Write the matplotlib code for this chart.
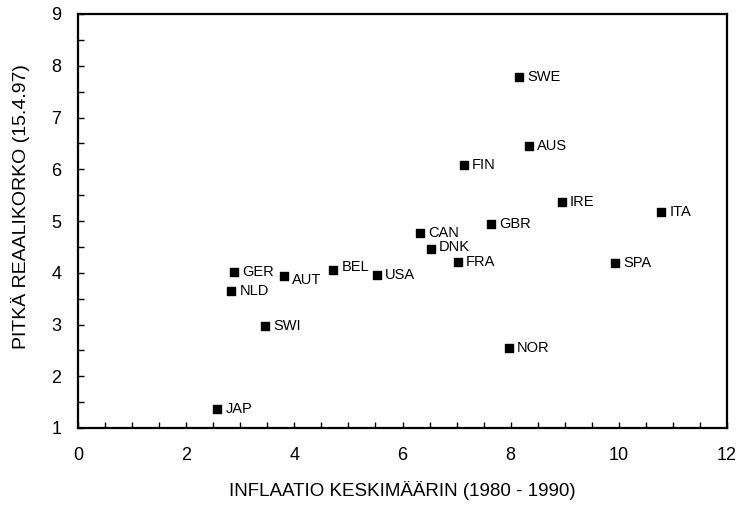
import matplotlib

matplotlib.use("Agg")
import matplotlib.pyplot as plt  # noqa: E402
from matplotlib.ticker import MultipleLocator  # noqa: E402

plt.rcParams["font.family"] = ["Liberation Sans", "DejaVu Sans"]

# Country codes, average inflation 1980-1990 and long real interest rate (15.4.97)
countries = ["SWE", "AUS", "FIN", "IRE", "ITA", "GBR", "CAN", "DNK", "FRA",
             "SPA", "USA", "BEL", "AUT", "GER", "NLD", "SWI", "NOR", "JAP"]
inflation = [8.15, 8.33, 7.13, 8.94, 10.78, 7.63, 6.33, 6.52, 7.02,
             9.93, 5.52, 4.72, 3.80, 2.89, 2.83, 3.46, 7.96, 2.57]
real_rate = [7.78, 6.45, 6.08, 5.37, 5.18, 4.95, 4.77, 4.45, 4.20,
             4.18, 3.96, 4.05, 3.94, 4.02, 3.64, 2.98, 2.55, 1.37]
# small vertical nudges for labels that sit off the marker line (points)
label_dy = {"DNK": 2, "AUT": -3, "BEL": 2}

fig = plt.figure(figsize=(7.42, 5.08), dpi=100)
ax = fig.add_axes([78 / 742, 80 / 508, 649 / 742, 414 / 508])

ax.scatter(inflation, real_rate, marker="s", s=28, color="black", zorder=3)
for name, x, y in zip(countries, inflation, real_rate):
    ax.annotate(name, (x, y), xytext=(6, label_dy.get(name, 0)),
                textcoords="offset points", ha="left", va="center", fontsize=10.5)

ax.set_xlim(0, 12)
ax.set_ylim(1, 9)
ax.xaxis.set_major_locator(MultipleLocator(2))
ax.xaxis.set_minor_locator(MultipleLocator(0.5))
ax.yaxis.set_major_locator(MultipleLocator(1))
ax.yaxis.set_minor_locator(MultipleLocator(0.5))
ax.tick_params(which="both", direction="in", length=4, width=1)
ax.tick_params(which="major", labelsize=13, pad=14)
ax.tick_params(top=False, right=False)
ax.tick_params(axis="y", pad=12)
for spine in ax.spines.values():
    spine.set_linewidth(1.6)

ax.set_xlabel("INFLAATIO KESKIMÄÄRIN (1980 - 1990)", fontsize=13.5, labelpad=12)
ax.set_ylabel("PITKÄ REAALIKORKO (15.4.97)", fontsize=14)
ax.yaxis.set_label_coords(-48 / 649, 0.534)

fig.savefig("out.png", dpi=100, facecolor="white")
